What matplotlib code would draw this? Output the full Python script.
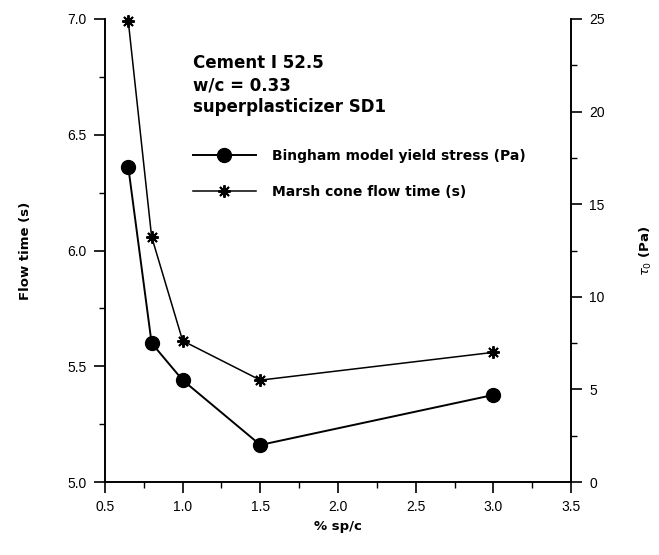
import matplotlib
matplotlib.use("Agg")
import matplotlib.pyplot as plt
from matplotlib.ticker import MultipleLocator, FormatStrFormatter

plt.rcParams['font.family'] = ['Liberation Sans', 'DejaVu Sans']

# % sp/c dosages
sp_c = [0.65, 0.8, 1.0, 1.5, 3.0]
# Marsh cone flow time (s), left axis
flow_time = [6.99, 6.06, 5.61, 5.44, 5.56]
# Bingham yield stress (Pa), right axis
yield_stress = [17.0, 7.5, 5.5, 2.0, 4.7]

info_lines = ["Cement I 52.5", "w/c = 0.33", "superplasticizer SD1"]
label_bingham = "Bingham model yield stress (Pa)"
label_marsh = "Marsh cone flow time (s)"

fig = plt.figure(figsize=(6.59, 5.55), dpi=100)
ax = fig.add_axes([105/659, 1 - 482/555, (571-105)/659, (482-19)/555])
ax2 = ax.twinx()

star = (8, 2, 0)
l_marsh, = ax.plot(sp_c, flow_time, color='black', lw=1.1, marker=star,
                   markersize=9, markeredgewidth=1.4, label=label_marsh,
                   clip_on=False)
l_bing, = ax2.plot(sp_c, yield_stress, color='black', lw=1.4, marker='o',
                   markersize=10, label=label_bingham, clip_on=False)

ax.set_xlim(0.5, 3.5)
ax.set_ylim(5.0, 7.0)
ax2.set_ylim(0, 25)

ax.xaxis.set_major_locator(MultipleLocator(0.5))
ax.xaxis.set_minor_locator(MultipleLocator(0.25))
ax.yaxis.set_major_locator(MultipleLocator(0.5))
ax.yaxis.set_minor_locator(MultipleLocator(0.25))
ax2.yaxis.set_major_locator(MultipleLocator(5))
ax2.yaxis.set_minor_locator(MultipleLocator(2.5))
ax.xaxis.set_major_formatter(FormatStrFormatter('%.1f'))
ax.yaxis.set_major_formatter(FormatStrFormatter('%.1f'))

for a in (ax, ax2):
    a.spines['top'].set_visible(False)
    for s in a.spines.values():
        s.set_linewidth(1.2)
    a.tick_params(which='major', direction='out', length=8, width=1.2,
                  labelsize=10, pad=5)
    a.tick_params(which='minor', direction='out', length=4, width=1.0)

bold = {'family': ['DejaVu Sans'], 'weight': 'bold', 'size': 9.5}
ax.set_xlabel("% sp/c", fontdict=bold, labelpad=4)
ax.set_ylabel("Flow time (s)", fontdict=bold, labelpad=26)
ax2.set_ylabel(r"$\tau_0$ (Pa)", fontdict=bold, labelpad=24)

fig.text(193/659, 1 - 54/555, "\n".join(info_lines), fontsize=12,
         family=['DejaVu Sans'], fontweight='bold', va='top', ha='left',
         linespacing=1.3)

ax.legend([l_bing, l_marsh], [label_bingham, label_marsh], loc='upper left',
          bbox_to_anchor=(193/659, 1 - 149/555), bbox_transform=fig.transFigure,
          frameon=False, handlelength=4.5, handletextpad=1.2, labelspacing=1.6,
          borderpad=0, borderaxespad=0,
          prop={'family': ['DejaVu Sans'], 'weight': 'bold', 'size': 10})

fig.savefig("out.png", dpi=100)
